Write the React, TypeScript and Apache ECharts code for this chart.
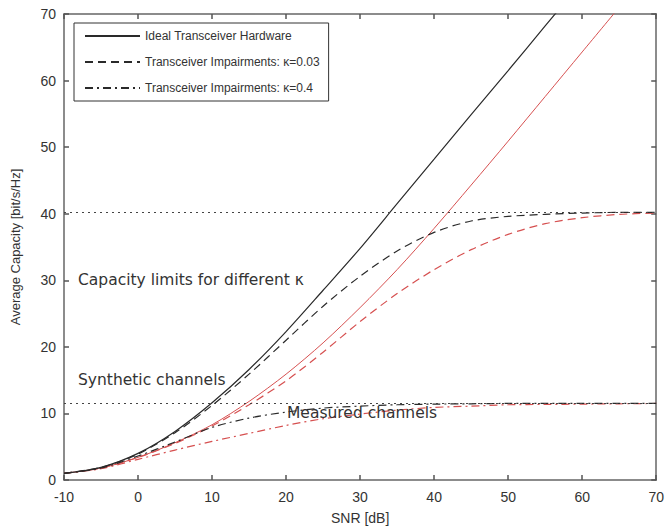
import React, { useEffect, useRef } from "react";
import * as echarts from "echarts";

const snr = [-10, -5, 0, 5, 10, 15, 20, 25, 30, 35, 40, 45, 50, 55, 60, 65, 70];

// Synthetic channels (black)
const synIdeal = [1.0, 1.9, 4.0, 7.3, 11.6, 16.6, 22.3, 28.5, 34.8, 41.5, 48.2, 54.9, 61.5, 68.2, 74.9];
const synK003 = [1.0, 1.9, 3.9, 7.1, 11.2, 15.9, 21.0, 26.1, 30.6, 34.4, 37.2, 38.9, 39.6, 39.9, 40.1, 40.2, 40.2];
const synK04 = [1.0, 1.8, 3.6, 5.7, 7.9, 9.3, 10.2, 10.8, 11.1, 11.3, 11.4, 11.45, 11.5, 11.5, 11.5, 11.5, 11.5];

// Measured channels (red)
const measIdeal = [1.0, 1.8, 3.4, 5.6, 8.3, 11.8, 15.9, 20.6, 25.9, 31.6, 37.8, 44.3, 50.9, 57.6, 64.3, 71.0];
const measK003 = [1.0, 1.8, 3.4, 5.5, 8.1, 11.3, 14.9, 19.2, 23.8, 28.0, 31.6, 34.6, 36.9, 38.5, 39.4, 39.9, 40.1];
const measK04 = [1.0, 1.7, 3.1, 4.5, 5.8, 7.0, 8.2, 9.2, 9.9, 10.5, 10.9, 11.1, 11.3, 11.35, 11.4, 11.45, 11.5];

const capacityLimits = [40.2, 11.5];

const legendNames = [
  "Ideal Transceiver Hardware",
  "Transceiver Impairments: \u03ba=0.03",
  "Transceiver Impairments: \u03ba=0.4",
];

const annotations = [
  { text: "Capacity limits for different \u03ba", left: 78, top: 272 },
  { text: "Synthetic channels", left: 78, top: 372 },
  { text: "Measured channels", left: 287, top: 405 },
];

const xTicks = { min: -10, max: 70, interval: 10 };
const yTicks = { min: 0, max: 70, interval: 10 };

const FONT = "Liberation Sans, Arial, sans-serif";
const WIDE_FONT = "DejaVu Sans, sans-serif";
const BLACK = "#2a2a2a";
const RED = "#d65050";
const DASH = [8, 5];
const DASHDOT = [8, 4, 2, 4];

function pairs(vals: number[]) {
  return vals.map((v, i) => [snr[i], v]);
}

export default function App() {
  const ref = useRef<HTMLDivElement>(null);
  useEffect(() => {
    if (!ref.current) return;
    const chart = echarts.init(ref.current, undefined, { renderer: "svg" });
    const axisLine = { show: true, onZero: false, lineStyle: { color: "#666", width: 1.5 } };
    const tick = { show: true, inside: true, length: 5, lineStyle: { color: "#555", width: 1.5 } };
    const mk = (name: string, data: number[], color: string, type: any, width = 1.2, z = 2) => ({
      type: "line",
      name,
      data: pairs(data),
      symbol: "none",
      smooth: 0.3,
      lineStyle: { color, type, width },
      itemStyle: { color },
      z,
      xAxisIndex: 0,
      yAxisIndex: 0,
    });
    const series: any[] = [
      mk("meas-ideal", measIdeal, RED, "solid", 1),
      mk("meas-003", measK003, RED, DASH, 1.2),
      mk("meas-04", measK04, RED, DASHDOT, 1.2),
      mk(legendNames[0], synIdeal, BLACK, "solid", 1.2, 3),
      mk(legendNames[1], synK003, BLACK, DASH, 1.2, 3),
      mk(legendNames[2], synK04, BLACK, DASHDOT, 1.2, 3),
    ];
    series[0].markLine = {
      silent: true,
      symbol: "none",
      label: { show: false },
      lineStyle: { color: "#444", type: [2, 4], width: 1 },
      data: capacityLimits.map((v) => ({ yAxis: v })),
    };
    chart.setOption({
      animation: false,
      backgroundColor: "#fff",
      textStyle: { fontFamily: FONT },
      grid: { left: 64, right: 8, top: 14, bottom: 51, containLabel: false },
      legend: {
        data: legendNames,
        orient: "vertical",
        left: 74,
        top: 23,
        backgroundColor: "#fff",
        borderColor: "#333",
        borderWidth: 1,
        borderRadius: 0,
        padding: [7, 9, 7, 10],
        itemWidth: 55,
        itemHeight: 14,
        itemGap: 14,
        selectedMode: false,
        itemStyle: { opacity: 0 },
        textStyle: { fontFamily: FONT, fontSize: 12, color: "#333" },
      },
      xAxis: [
        {
          type: "value",
          ...xTicks,
          position: "bottom",
          axisLine,
          axisTick: tick,
          splitLine: { show: false },
          axisLabel: { color: "#333", fontSize: 14, margin: 10, fontFamily: FONT },
          name: "SNR [dB]",
          nameLocation: "middle",
          nameGap: 31,
          nameTextStyle: { color: "#333", fontSize: 14, fontFamily: FONT },
        },
        {
          type: "value",
          ...xTicks,
          position: "top",
          axisLine,
          axisTick: tick,
          splitLine: { show: false },
          axisLabel: { show: false },
        },
      ],
      yAxis: [
        {
          type: "value",
          ...yTicks,
          position: "left",
          axisLine,
          axisTick: tick,
          splitLine: { show: false },
          axisLabel: { color: "#333", fontSize: 14, margin: 8, fontFamily: FONT },
          name: "Average Capacity [bit/s/Hz]",
          nameLocation: "middle",
          nameGap: 42,
          nameTextStyle: { color: "#333", fontSize: 13, fontFamily: FONT },
        },
        {
          type: "value",
          ...yTicks,
          position: "right",
          axisLine,
          axisTick: tick,
          splitLine: { show: false },
          axisLabel: { show: false },
        },
      ],
      graphic: annotations.map((a) => ({
        type: "text",
        left: a.left,
        top: a.top,
        z: 10,
        style: { text: a.text, fill: "#333", font: `15.5px ${WIDE_FONT}` },
      })),
      series,
    });
    return () => chart.dispose();
  }, []);
  return <div ref={ref} style={{ width: 667, height: 531, position: "absolute", left: 0, top: 0 }} />;
}
